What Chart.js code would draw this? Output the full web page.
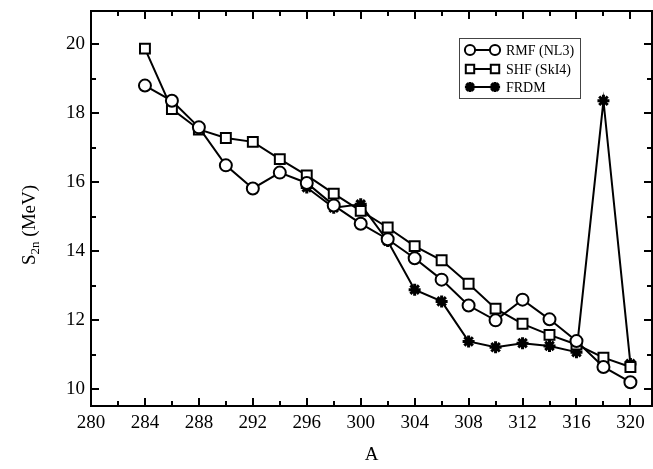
<!DOCTYPE html>
<html>
<head>
<meta charset="utf-8">
<script src="https://cdn.jsdelivr.net/npm/chart.js@4.4.0/dist/chart.umd.min.js"></script>
<style>
  html, body { margin: 0; padding: 0; background: #fff; }
  #wrap { width: 653px; height: 469px; }
</style>
</head>
<body>
<div id="wrap"><canvas id="chart" width="653" height="469"></canvas></div>
<script>
const massNumbers = [284, 286, 288, 290, 292, 294, 296, 298, 300, 302, 304, 306, 308, 310, 312, 314, 316, 318, 320];
const rmfNL3 = [18.8, 18.36, 17.59, 16.49, 15.82, 16.28, 15.98, 15.33, 14.8, 14.35, 13.8, 13.18, 12.43, 12.0, 12.6, 12.03, 11.4, 10.65, 10.21];
const shfSkI4 = [19.87, 18.12, 17.53, 17.28, 17.17, 16.67, 16.2, 15.67, 15.17, 14.69, 14.15, 13.74, 13.06, 12.34, 11.9, 11.58, 11.3, 10.92, 10.65];
const frdm = [null, null, null, null, null, null, 15.85, 15.26, 15.36, 14.3, 12.89, 12.55, 11.39, 11.22, 11.34, 11.26, 11.08, 18.36, 10.74];
const xTicks = [280, 284, 288, 292, 296, 300, 304, 308, 312, 316, 320];
const yTicks = [10, 12, 14, 16, 18, 20];

const serif = "'Liberation Serif', 'Times New Roman', serif";

function toPoints(values) {
  return massNumbers.map((a, i) => ({ x: a, y: values[i] }));
}

// frame with inward ticks on all four sides
const frameAndTicks = {
  id: "frameAndTicks",
  afterDatasetsDraw(chart) {
    const ctx = chart.ctx;
    const { left, right, top, bottom } = chart.chartArea;
    const xs = chart.scales.x;
    const ys = chart.scales.y;
    ctx.save();
    ctx.strokeStyle = "#000";
    ctx.lineWidth = 2;
    ctx.beginPath();
    for (let v = xs.min; v <= xs.max; v += 2) {
      const px = Math.round(xs.getPixelForValue(v));
      const len = v % 4 === 0 ? 8 : 5;
      ctx.moveTo(px, bottom);
      ctx.lineTo(px, bottom - len);
      ctx.moveTo(px, top);
      ctx.lineTo(px, top + len);
    }
    for (let v = Math.ceil(ys.min); v <= ys.max; v += 1) {
      const py = Math.round(ys.getPixelForValue(v));
      const len = v % 2 === 0 ? 8 : 5;
      ctx.moveTo(left, py);
      ctx.lineTo(left + len, py);
      ctx.moveTo(right, py);
      ctx.lineTo(right - len, py);
    }
    ctx.stroke();
    ctx.strokeRect(left, top, right - left, bottom - top);
    ctx.restore();
  },
};

// axis titles (subscript in y title) and the legend box
const titlesAndLegend = {
  id: "titlesAndLegend",
  afterDraw(chart) {
    const ctx = chart.ctx;
    const { left, right } = chart.chartArea;
    ctx.save();
    ctx.fillStyle = "#000";

    // x title
    ctx.font = "19px " + serif;
    ctx.textAlign = "center";
    ctx.textBaseline = "middle";
    ctx.fillText("A", (left + right) / 2, 455);

    // y title: S_2n (MeV)
    const big = "19px " + serif;
    const small = "13px " + serif;
    ctx.font = big;
    const wS = ctx.measureText("S").width;
    const wRest = ctx.measureText(" (MeV)").width;
    ctx.font = small;
    const wSub = ctx.measureText("2n").width;
    const total = wS + wSub + wRest;
    ctx.translate(29, 225);
    ctx.rotate(-Math.PI / 2);
    ctx.textAlign = "left";
    ctx.textBaseline = "alphabetic";
    let x0 = -total / 2;
    ctx.font = big;
    ctx.fillText("S", x0, 6);
    x0 += wS;
    ctx.font = small;
    ctx.fillText("2n", x0, 10);
    x0 += wSub;
    ctx.font = big;
    ctx.fillText(" (MeV)", x0, 6);
    ctx.restore();

    // legend
    ctx.save();
    const box = { x: 459, y: 38, w: 121, h: 60 };
    ctx.strokeStyle = "#444";
    ctx.lineWidth = 1;
    ctx.strokeRect(box.x + 0.5, box.y + 0.5, box.w, box.h);
    const rows = [50, 69, 87];
    chart.data.datasets.forEach((ds, i) => {
      const y = rows[i];
      ctx.strokeStyle = "#000";
      ctx.lineWidth = 2;
      ctx.beginPath();
      ctx.moveTo(470, y);
      ctx.lineTo(495, y);
      ctx.stroke();
      const opts = {
        pointStyle: ds.pointStyle,
        radius: ds.pointRadius * 0.85,
        rotation: 0,
        borderWidth: ds.pointBorderWidth,
      };
      [470, 495].forEach((mx) => {
        ctx.fillStyle = "#fff";
        ctx.strokeStyle = "#000";
        ctx.lineWidth = ds.pointBorderWidth;
        Chart.helpers.drawPoint(ctx, opts, mx, y);
      });
      ctx.fillStyle = "#000";
      ctx.font = "14px " + serif;
      ctx.textAlign = "left";
      ctx.textBaseline = "middle";
      ctx.fillText(ds.label, 506, y + 1);
    });
    ctx.restore();
  },
};

new Chart(document.getElementById("chart").getContext("2d"), {
  type: "line",
  data: {
    datasets: [
      {
        label: "RMF (NL3)",
        data: toPoints(rmfNL3),
        borderColor: "#000",
        borderWidth: 2,
        pointStyle: "circle",
        pointRadius: 6,
        pointBorderWidth: 2,
        pointBackgroundColor: "#fff",
        pointBorderColor: "#000",
        tension: 0,
      },
      {
        label: "SHF (SkI4)",
        data: toPoints(shfSkI4),
        borderColor: "#000",
        borderWidth: 2,
        pointStyle: "rect",
        pointRadius: 7,
        pointBorderWidth: 2,
        pointBackgroundColor: "#fff",
        pointBorderColor: "#000",
        tension: 0,
      },
      {
        label: "FRDM",
        data: toPoints(frdm),
        borderColor: "#000",
        borderWidth: 2,
        pointStyle: "star",
        pointRadius: 6,
        pointBorderWidth: 3,
        pointBackgroundColor: "#000",
        pointBorderColor: "#000",
        tension: 0,
        spanGaps: false,
      },
    ],
  },
  options: {
    responsive: false,
    animation: false,
    devicePixelRatio: 1,
    layout: { autoPadding: false, padding: { top: 11, right: 1, left: 0, bottom: 0 } },
    plugins: {
      legend: { display: false },
      tooltip: { enabled: false },
    },
    scales: {
      x: {
        type: "linear",
        min: 280,
        max: 321.6,
        afterBuildTicks: (scale) => {
          scale.ticks = xTicks.map((v) => ({ value: v }));
        },
        afterFit: (scale) => {
          scale.height = 63;
          scale.paddingLeft = 0;
          scale.paddingRight = 0;
        },
        grid: { display: false, drawTicks: false },
        border: { display: false },
        ticks: {
          color: "#000",
          padding: 6,
          maxRotation: 0,
          autoSkip: false,
          font: { family: serif, size: 19 },
        },
      },
      y: {
        type: "linear",
        min: 9.52,
        max: 20.96,
        afterBuildTicks: (scale) => {
          scale.ticks = yTicks.map((v) => ({ value: v }));
        },
        afterFit: (scale) => {
          scale.width = 91;
          scale.paddingTop = 0;
          scale.paddingBottom = 0;
        },
        grid: { display: false, drawTicks: false },
        border: { display: false },
        ticks: {
          color: "#000",
          padding: 6,
          autoSkip: false,
          font: { family: serif, size: 19 },
        },
      },
    },
  },
  plugins: [frameAndTicks, titlesAndLegend],
});
</script>
</body>
</html>
